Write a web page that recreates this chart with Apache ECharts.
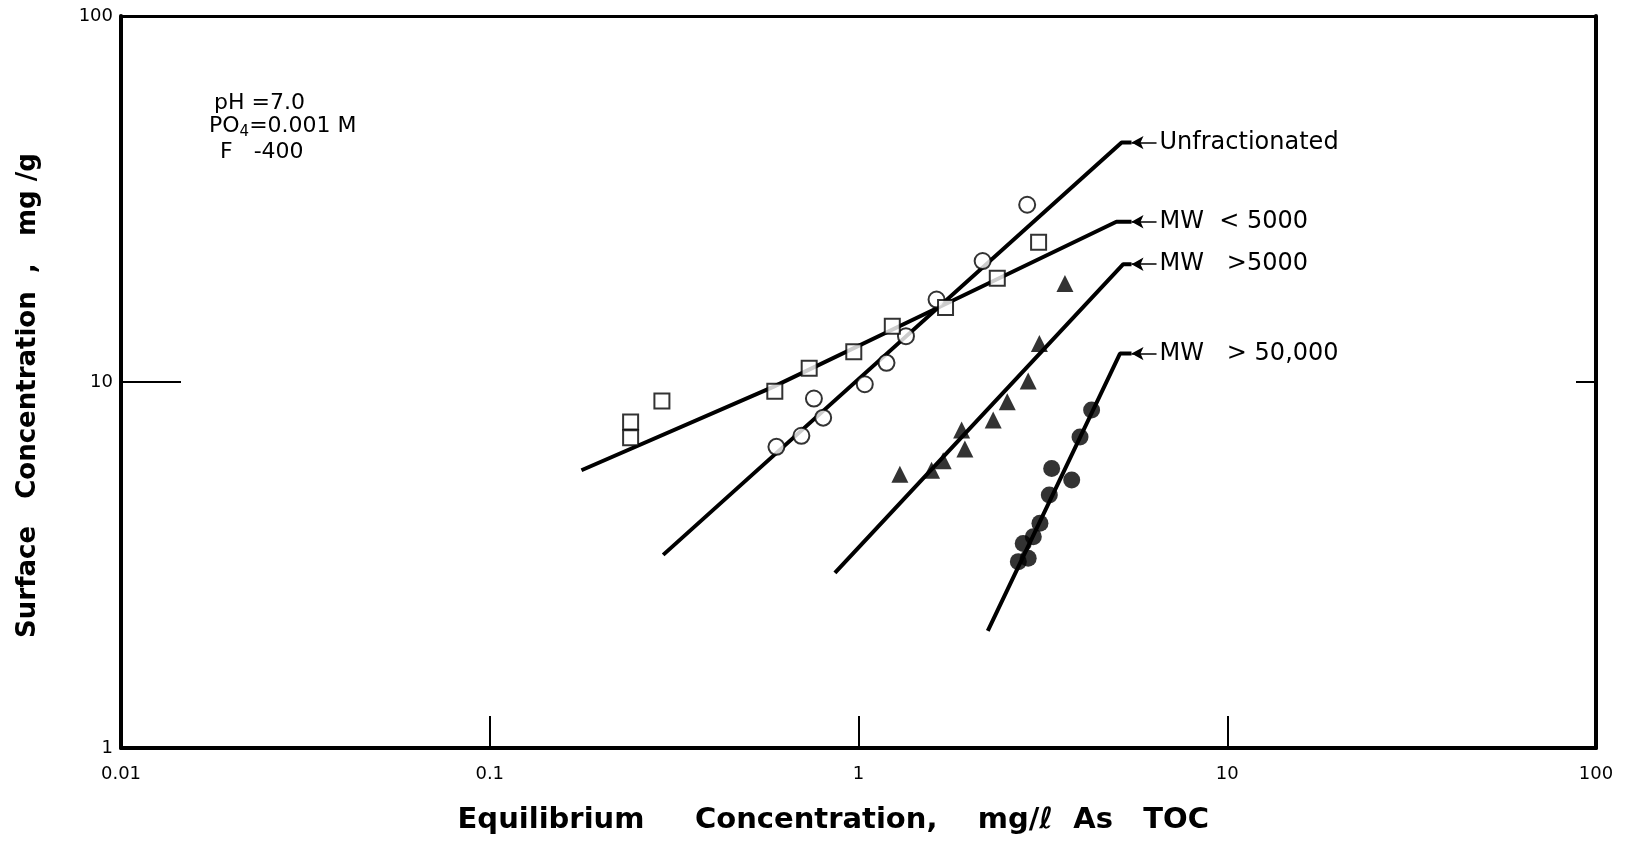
<!DOCTYPE html>
<html>
<head>
<meta charset="utf-8">
<script src="https://cdn.jsdelivr.net/npm/echarts@6/dist/echarts.min.js"></script>
<style>
  html, body { margin: 0; padding: 0; background: #fff; }
  #chart { width: 1627px; height: 842px; }
</style>
</head>
<body>
<div id="chart"></div>
<script>
// ---- data ----
const xTickLabels = ['0.01', '0.1', '1', '10', '100'];
const yTickLabels = ['1', '10', '100'];
const seriesNames = ['Unfractionated', 'MW  < 5000', 'MW   >5000', 'MW   > 50,000'];

const unfracPts = [[0.599, 6.65], [0.700, 7.13], [0.757, 9.01], [0.802, 7.99], [1.040, 9.86], [1.191, 11.28], [1.345, 13.34], [1.628, 16.80], [2.171, 21.4], [2.867, 30.5]];
const mwLt5000Pts = [[0.241, 7.78], [0.241, 7.04], [0.293, 8.88], [0.593, 9.44], [0.735, 10.9], [0.971, 12.1], [1.235, 14.2], [1.722, 15.97], [2.379, 19.2], [3.079, 24.1]];
const mwGt5000Pts = [[1.295, 5.60], [1.578, 5.74], [1.697, 6.09], [1.904, 7.39], [1.943, 6.56], [2.319, 7.87], [2.532, 8.83], [2.885, 10.07], [3.094, 12.74], [3.63, 18.58]];
const mwGt50000Pts = [[4.287, 8.38], [3.988, 7.08], [3.341, 5.80], [3.786, 5.40], [3.292, 4.91], [3.105, 4.11], [2.979, 3.78], [2.797, 3.62], [2.713, 3.23], [2.885, 3.30]];

const unfracFit = [[0.2953, 3.37], [5.171, 45.1]];
const mwLt5000Fit = [[0.1773, 5.74], [0.587, 9.70], [1.734, 16.39], [5.005, 27.4]];
const mwGt5000Fit = [[0.863, 3.01], [5.224, 20.98]];
const mwGt50000Fit = [[2.242, 2.09], [5.118, 11.96]];

// leader (arrow) x positions for the curve labels
const arrowTipX = 5.5;
const leaderEndX = 6.43;

const NB = '\u00a0';

// ---- chart ----
const FONT = 'DejaVu Sans';
const chart = echarts.init(document.getElementById('chart'));

function fitSeries(name, fit) {
  const cornerY = fit[fit.length - 1][1];
  const data = fit.concat([[arrowTipX, cornerY]]);
  return {
    name: name + ' fit',
    type: 'line',
    data: data,
    symbol: 'none',
    silent: true,
    lineStyle: { color: '#000', width: 4 },
    z: 3,
    markLine: {
      silent: true,
      animation: false,
      symbol: ['arrow', 'none'],
      symbolSize: [10, 12],
      lineStyle: { color: '#000', width: 1.5, type: 'solid' },
      label: {
        show: true,
        position: 'end',
        distance: 3,
        formatter: name,
        color: '#000',
        fontFamily: FONT,
        fontSize: 24
      },
      data: [[{ coord: [arrowTipX, cornerY] }, { coord: [leaderEndX, cornerY] }]]
    }
  };
}

function pointSeries(name, pts, symbol, filled, size) {
  return {
    name: name,
    type: 'scatter',
    data: pts,
    symbol: symbol,
    symbolSize: size,
    itemStyle: filled
      ? { color: '#000', borderColor: '#000', borderWidth: 0 }
      : { color: '#fff', borderColor: '#000', borderWidth: 2 },
    z: 5
  };
}

const option = {
  animation: false,
  backgroundColor: '#fff',
  grid: { left: 121, right: 31, top: 16, bottom: 94 },
  xAxis: [{
    type: 'log',
    logBase: 10,
    min: 0.01,
    max: 100,
    position: 'bottom',
    name: 'Equilibrium     Concentration,    mg/ℓ  As   TOC' + NB.repeat(5),
    nameLocation: 'middle',
    nameGap: 58,
    nameTextStyle: { fontFamily: FONT, fontSize: 29, fontWeight: 'bold', color: '#000' },
    axisLine: { show: true, lineStyle: { color: '#000', width: 4 } },
    axisTick: { show: true, inside: true, length: 32, lineStyle: { color: '#000', width: 2 } },
    minorTick: { show: false },
    splitLine: { show: false },
    axisLabel: {
      margin: 17,
      fontFamily: FONT,
      fontSize: 18,
      color: '#000',
      formatter: function (v) {
        const i = Math.round(Math.log10(v)) + 2;
        return xTickLabels[i] !== undefined ? xTickLabels[i] : '';
      }
    }
  }, {
    type: 'log',
    logBase: 10,
    min: 0.01,
    max: 100,
    position: 'top',
    axisLine: { show: true, lineStyle: { color: '#000', width: 3 } },
    axisTick: { show: false },
    axisLabel: { show: false },
    splitLine: { show: false }
  }],
  yAxis: [{
    type: 'log',
    logBase: 10,
    min: 1,
    max: 100,
    position: 'left',
    name: 'Surface   Concentration  ,   mg /g' + NB.repeat(3),
    nameLocation: 'middle',
    nameGap: 80,
    nameTextStyle: { fontFamily: FONT, fontSize: 26, fontWeight: 'bold', color: '#000' },
    axisLine: { show: true, lineStyle: { color: '#000', width: 4 } },
    axisTick: { show: true, inside: true, length: 60, lineStyle: { color: '#000', width: 2 } },
    minorTick: { show: false },
    splitLine: { show: false },
    axisLabel: {
      margin: 8,
      fontFamily: FONT,
      fontSize: 18,
      color: '#000',
      formatter: function (v) {
        const i = Math.round(Math.log10(v));
        return yTickLabels[i] !== undefined ? yTickLabels[i] : '';
      }
    }
  }, {
    type: 'log',
    logBase: 10,
    min: 1,
    max: 100,
    position: 'right',
    axisLine: { show: true, lineStyle: { color: '#000', width: 4 } },
    axisTick: { show: true, inside: true, length: 20, lineStyle: { color: '#000', width: 2 } },
    axisLabel: { show: false },
    splitLine: { show: false }
  }],
  graphic: [
    { type: 'text', left: 214, top: 92, style: { text: 'pH =7.0', font: '22px "DejaVu Sans"', fill: '#000' } },
    { type: 'text', left: 209, top: 115, style: {
        text: 'PO{s|4}=0.001 M', font: '22px "DejaVu Sans"', fill: '#000',
        rich: { s: { fontSize: 15, fontFamily: FONT, padding: [12, 0, 0, 0], fill: '#000' } }
      } },
    { type: 'text', left: 220, top: 141, style: { text: 'F   -400', font: '22px "DejaVu Sans"', fill: '#000' } }
  ],
  series: [
    fitSeries(seriesNames[0], unfracFit),
    fitSeries(seriesNames[1], mwLt5000Fit),
    fitSeries(seriesNames[2], mwGt5000Fit),
    fitSeries(seriesNames[3], mwGt50000Fit),
    pointSeries(seriesNames[0], unfracPts, 'circle', false, 16),
    pointSeries(seriesNames[1], mwLt5000Pts, 'rect', false, 15),
    pointSeries(seriesNames[2], mwGt5000Pts, 'triangle', true, 17),
    pointSeries(seriesNames[3], mwGt50000Pts, 'circle', true, 17)
  ]
};
chart.setOption(option);
</script>
</body>
</html>
